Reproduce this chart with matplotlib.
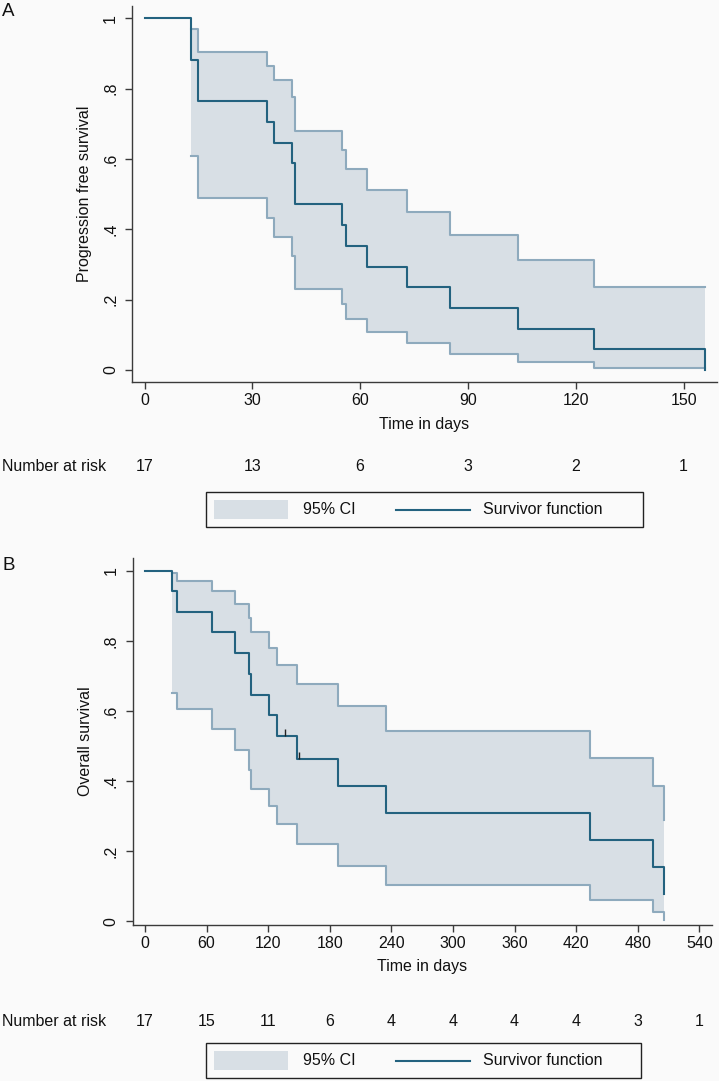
import matplotlib
matplotlib.use("Agg")
import matplotlib.pyplot as plt
from matplotlib.patches import Rectangle
from matplotlib.lines import Line2D
from matplotlib.transforms import blended_transform_factory

plt.rcParams['font.family'] = ['Liberation Sans', 'DejaVu Sans']

# ---------------- Data: Panel A (progression free survival) ----------------
pfs_time = [0, 13, 15, 34, 36, 41, 42, 55, 56, 62, 73, 85, 104, 125, 156]
pfs_surv = [1.0, 0.882, 0.765, 0.706, 0.647, 0.588, 0.471, 0.412, 0.353,
            0.294, 0.235, 0.176, 0.118, 0.059, 0.0]
pfs_ci_time = [13, 15, 34, 36, 41, 42, 55, 56, 62, 73, 85, 104, 125, 156]
pfs_ci_upper = [0.970, 0.904, 0.865, 0.824, 0.777, 0.680, 0.626, 0.571,
                0.512, 0.450, 0.384, 0.314, 0.237, 0.237]
pfs_ci_lower = [0.608, 0.488, 0.431, 0.377, 0.325, 0.231, 0.187, 0.145,
                0.107, 0.076, 0.046, 0.022, 0.006, 0.006]
pfs_xticks = [0, 30, 60, 90, 120, 150]
pfs_at_risk = [17, 13, 6, 3, 2, 1]

# ---------------- Data: Panel B (overall survival) ----------------
os_time = [0, 26, 31, 65, 88, 101, 103, 121, 129, 148, 188, 235, 433, 495, 506]
os_surv = [1.0, 0.941, 0.882, 0.824, 0.765, 0.706, 0.647, 0.588, 0.529,
           0.463, 0.386, 0.309, 0.232, 0.154, 0.077]
os_ci_time = [26, 31, 65, 88, 101, 103, 121, 129, 148, 188, 235, 433, 495, 506]
os_ci_upper = [0.994, 0.970, 0.942, 0.905, 0.866, 0.824, 0.781, 0.731,
               0.677, 0.614, 0.543, 0.467, 0.385, 0.288]
os_ci_lower = [0.652, 0.607, 0.548, 0.489, 0.433, 0.379, 0.328, 0.279,
               0.222, 0.159, 0.105, 0.062, 0.028, 0.005]
os_censor_time = [136, 150]
os_censor_surv = [0.529, 0.463]
os_xticks = [0, 60, 120, 180, 240, 300, 360, 420, 480, 540]
os_at_risk = [17, 15, 11, 6, 4, 4, 4, 4, 3, 1]

yticks = [0, 0.2, 0.4, 0.6, 0.8, 1.0]
ytick_labels = ['0', '.2', '.4', '.6', '.8', '1']

# ---------------- Style ----------------
BG = '#fafafa'
SURV_COLOR = '#23627f'
CI_LINE = '#8eaabd'
CI_FILL = '#d8dfe5'
AXIS_COLOR = '#3a3a3a'
FS = 11.5

W, H = 719, 1081
fig = plt.figure(figsize=(W / 100, H / 100), dpi=100, facecolor=BG)


def fx(px):
    return px / W


def fy(py):
    return 1 - py / H


def make_panel(rect_px, xlim, ylim, time, surv, ci_t, ci_up, ci_lo,
               xticks, at_risk, ylabel, letter, letter_y, xlabel_y,
               risk_y, legend_box):
    x0, y0, x1, y1 = rect_px  # left, top, right, bottom in pixels
    ax = fig.add_axes([fx(x0), fy(y1), (x1 - x0) / W, (y1 - y0) / H])
    ax.set_facecolor(BG)
    ax.fill_between(ci_t, ci_lo, ci_up, step='post', color=CI_FILL,
                    linewidth=0, zorder=1)
    ax.step(ci_t, ci_up, where='post', color=CI_LINE, lw=1.5, zorder=2)
    ax.step(ci_t, ci_lo, where='post', color=CI_LINE, lw=1.5, zorder=2)
    ax.step(time, surv, where='post', color=SURV_COLOR, lw=1.5, zorder=3)
    ax.set_xlim(*xlim)
    ax.set_ylim(*ylim)
    for s in ['top', 'right']:
        ax.spines[s].set_visible(False)
    for s in ['left', 'bottom']:
        ax.spines[s].set_color(AXIS_COLOR)
        ax.spines[s].set_linewidth(1.0)
    ax.set_xticks(xticks)
    ax.set_xticklabels([str(t) for t in xticks])
    ax.set_yticks(yticks)
    ax.set_yticklabels(ytick_labels, rotation=90, va='center')
    ax.tick_params(axis='both', length=5, width=1.0, color=AXIS_COLOR,
                   labelsize=FS, labelcolor='#111111')
    ax.tick_params(axis='x', pad=3)
    ax.tick_params(axis='y', pad=5)

    # axis titles
    fig.text(fx((x0 + x1) / 2), fy(xlabel_y), 'Time in days', ha='center',
             va='center', fontsize=FS, color='#111111')
    fig.text(fx(85), fy((y0 + y1) / 2), ylabel, ha='center', va='center',
             rotation=90, fontsize=FS, color='#111111')
    fig.text(fx(2), fy(letter_y), letter, ha='left', va='center',
             fontsize=13.5, color='#111111')

    # number at risk
    tr = blended_transform_factory(ax.transData, fig.transFigure)
    fig.text(fx(2), fy(risk_y), 'Number at risk', ha='left', va='center',
             fontsize=FS, color='#111111')
    for t, n in zip(xticks, at_risk):
        ax.text(t, fy(risk_y), str(n), transform=tr, ha='center',
                va='center', fontsize=FS, color='#111111', clip_on=False)

    # legend box
    bx0, by0, bx1, by1 = legend_box
    fig.add_artist(Rectangle((fx(bx0), fy(by1)), (bx1 - bx0) / W,
                             (by1 - by0) / H, transform=fig.transFigure,
                             facecolor=BG, edgecolor='#222222', lw=1.0))
    cy = (by0 + by1) / 2
    fig.add_artist(Rectangle((fx(bx0 + 8), fy(cy + 9.5)), 74 / W, 19 / H,
                             transform=fig.transFigure, facecolor=CI_FILL,
                             edgecolor='none'))
    fig.text(fx(bx0 + 97), fy(cy), '95% CI', ha='left', va='center',
             fontsize=FS, color='#111111')
    fig.add_artist(Line2D([fx(bx0 + 190), fx(bx0 + 264)], [fy(cy), fy(cy)],
                          transform=fig.transFigure, color=SURV_COLOR,
                          lw=1.5))
    fig.text(fx(bx0 + 277), fy(cy), 'Survivor function', ha='left',
             va='center', fontsize=FS, color='#111111')
    return ax


axA = make_panel((132, 5.7, 717, 382), (-3.48, 159.3), (-0.034, 1.036),
                 pfs_time, pfs_surv, pfs_ci_time, pfs_ci_upper, pfs_ci_lower,
                 pfs_xticks, pfs_at_risk, 'Progression free survival',
                 'A', 12, 425, 466, (206, 492, 643, 527))

axB = make_panel((132.7, 557.7, 711.7, 925), (-12.0, 552.0), (-0.01, 1.037),
                 os_time, os_surv, os_ci_time, os_ci_upper, os_ci_lower,
                 os_xticks, os_at_risk, 'Overall survival',
                 'B', 565, 967, 1021, (206, 1043, 641, 1078))

# censoring marks on overall survival
axB.vlines(os_censor_time, os_censor_surv,
           [s + 0.02 for s in os_censor_surv], color='#222222', lw=1.0,
           zorder=4)

fig.savefig('out.png', dpi=100, facecolor=BG)
